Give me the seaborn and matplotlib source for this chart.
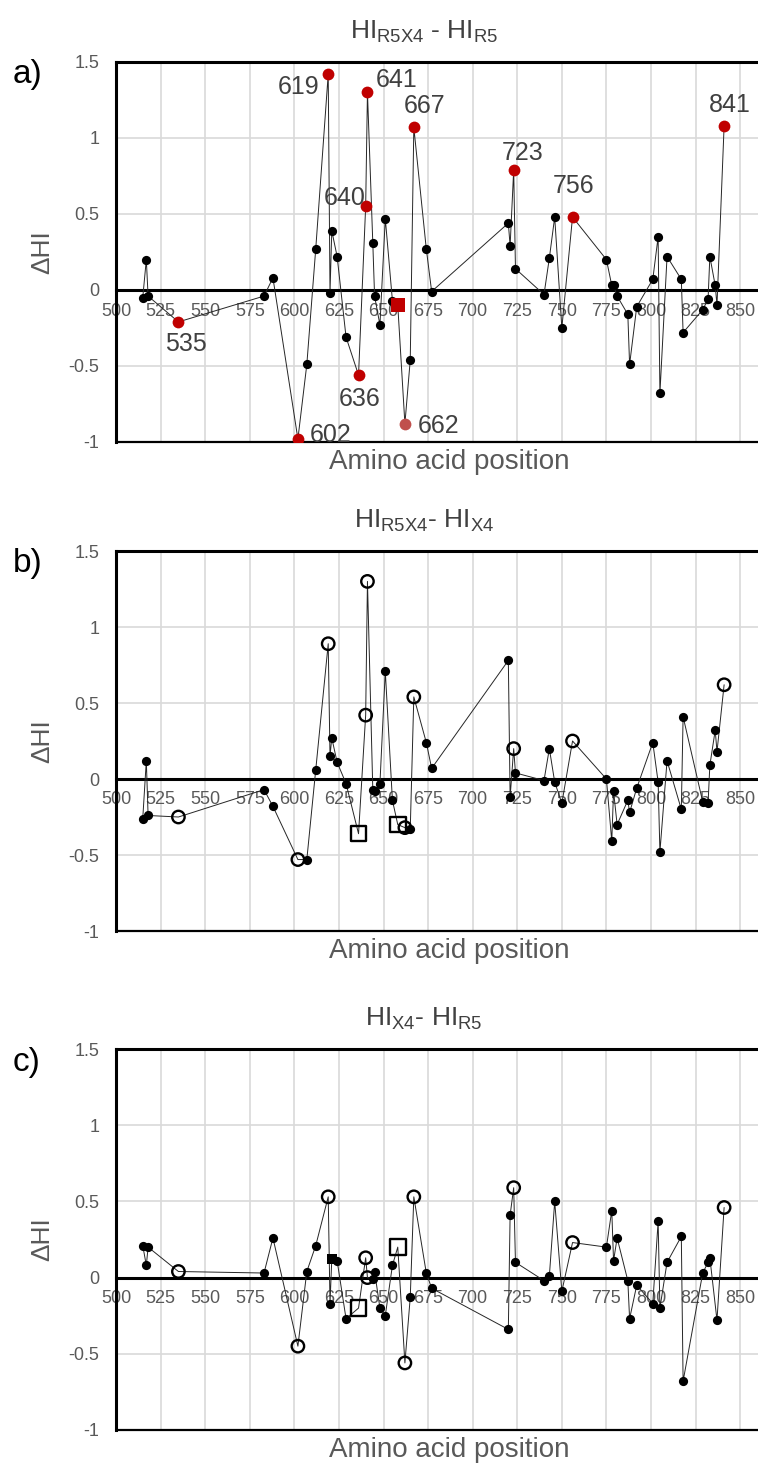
import numpy as np
import pandas as pd
import matplotlib
matplotlib.use("Agg")
import matplotlib.pyplot as plt
import seaborn as sns

# amino acid positions shared by the three panels
positions = [515, 517, 518, 535, 583, 588, 602, 607, 612, 619,
             620, 621, 624, 629, 636, 640, 641, 644, 645, 648,
             651, 655, 658, 662, 665, 667, 674, 677, 720, 721,
             723, 724, 740, 743, 746, 750, 756, 775, 778, 779,
             781, 787, 788, 792, 801, 804, 805, 809, 817, 818,
             829, 832, 833, 836, 837, 841]

# a) HI R5X4 - HI R5
dhi_r5x4_r5 = [-0.05, 0.20, -0.04, -0.21, -0.04, 0.08, -0.98, -0.49, 0.27, 1.42,
               -0.02, 0.39, 0.22, -0.31, -0.56, 0.55, 1.30, 0.31, -0.04, -0.23,
               0.47, -0.07, -0.10, -0.88, -0.46, 1.07, 0.27, -0.01, 0.44, 0.29,
               0.79, 0.14, -0.03, 0.21, 0.48, -0.25, 0.48, 0.20, 0.03, 0.03,
               -0.04, -0.16, -0.49, -0.11, 0.07, 0.35, -0.68, 0.22, 0.07, -0.28,
               -0.13, -0.06, 0.22, 0.03, -0.10, 1.08]

# b) HI R5X4 - HI X4
dhi_r5x4_x4 = [-0.26, 0.12, -0.24, -0.25, -0.07, -0.18, -0.53, -0.53, 0.06, 0.89,
               0.15, 0.27, 0.11, -0.03, -0.36, 0.42, 1.30, -0.07, -0.08, -0.03,
               0.71, -0.14, -0.30, -0.32, -0.33, 0.54, 0.24, 0.07, 0.78, -0.12,
               0.20, 0.04, -0.01, 0.20, -0.02, -0.16, 0.25, 0.00, -0.41, -0.08,
               -0.30, -0.14, -0.22, -0.06, 0.24, -0.02, -0.48, 0.12, -0.20, 0.41,
               -0.15, -0.16, 0.09, 0.32, 0.18, 0.62]

# c) HI X4 - HI R5
dhi_x4_r5 = [0.21, 0.08, 0.20, 0.04, 0.03, 0.26, -0.45, 0.04, 0.21, 0.53,
             -0.17, 0.12, 0.11, -0.27, -0.20, 0.13, 0.00, -0.01, 0.04, -0.20,
             -0.25, 0.08, 0.20, -0.56, -0.13, 0.53, 0.03, -0.07, -0.34, 0.41,
             0.59, 0.10, -0.02, 0.01, 0.50, -0.09, 0.23, 0.20, 0.44, 0.11,
             0.26, -0.02, -0.27, -0.05, -0.17, 0.37, -0.20, 0.10, 0.27, -0.68,
             0.03, 0.10, 0.13, np.nan, -0.28, 0.46]

# highlighted residues
labelled = [535, 602, 619, 636, 640, 641, 662, 667, 723, 756, 841]
square_res = [636, 658]
label_offsets = {535: (7, -20), 602: (33, 6), 619: (-30, -10), 636: (1, -21),
                 640: (-21, 11), 641: (29, 15), 662: (34, 0), 667: (11, 24),
                 723: (9, 19), 756: (1, 34), 841: (6, 23)}


def kind_a(p):
    if p == 662:
        return "pink"
    if p == 658:
        return "redsq"
    if p in labelled:
        return "red"
    return "dot"


def kind_bc(p, panel):
    if p in square_res:
        return "sq"
    if p in labelled and p != 636:
        return "open"
    if panel == "c" and p == 621:
        return "fsq"
    return "dot"


df = pd.DataFrame({"pos": positions, "a": dhi_r5x4_r5,
                   "b": dhi_r5x4_x4, "c": dhi_x4_r5})
df["kind_a"] = [kind_a(p) for p in positions]
df["kind_b"] = [kind_bc(p, "b") for p in positions]
df["kind_c"] = [kind_bc(p, "c") for p in positions]

styles = {
    "dot": dict(marker="o", s=44, color="black", linewidth=0),
    "red": dict(marker="o", s=72, color="#C00000", linewidth=0),
    "pink": dict(marker="o", s=72, color="#C0504D", linewidth=0),
    "redsq": dict(marker="s", s=100, color="#C00000", linewidth=0),
    "open": dict(marker="o", s=80, facecolor="none", edgecolor="black", linewidth=1.7),
    "sq": dict(marker="s", s=125, facecolor="none", edgecolor="black", linewidth=1.7),
    "fsq": dict(marker="s", s=42, color="black", linewidth=0),
}

sns.set_theme(style="white")
plt.rcParams["font.family"] = ["Liberation Sans", "DejaVu Sans"]
plt.rcParams["mathtext.default"] = "regular"

gray = "#595959"
dark = "#404040"

fig = plt.figure(figsize=(7.58, 14.67), dpi=100)
H = 1467.0
W = 758.0
panels = [
    ("a", "a)", r"HI$_{R5X4}$ - HI$_{R5}$", 62, 442),
    ("b", "b)", r"HI$_{R5X4}$- HI$_{X4}$", 551, 931),
    ("c", "c)", r"HI$_{X4}$- HI$_{R5}$", 1049, 1430),
]

for col, tag, title, top, bot in panels:
    ax = fig.add_axes([116 / W, 1 - bot / H, 1 - 116 / W, (bot - top) / H])
    sub = df.dropna(subset=[col])

    ax.set_xlim(500, 860)
    ax.set_ylim(-1, 1.5)
    ax.set_xticks(range(500, 851, 25))
    ax.set_yticks([-1, -0.5, 0, 0.5, 1, 1.5])
    ax.set_yticklabels(["-1", "-0.5", "0", "0.5", "1", "1.5"])
    ax.grid(True, color="#d9d9d9", lw=1.2, zorder=0)
    ax.set_axisbelow(True)

    sns.lineplot(data=sub, x="pos", y=col, ax=ax, color="#262626",
                 lw=0.7, estimator=None, sort=True, zorder=2)

    kcol = "kind_" + col
    for kind in ["dot", "fsq", "red", "pink", "redsq", "open", "sq"]:
        part = sub[sub[kcol] == kind]
        if len(part) == 0:
            continue
        sns.scatterplot(data=part, x="pos", y=col, ax=ax, zorder=3,
                        legend=False, **styles[kind])

    if col == "a":
        for p, v in zip(positions, dhi_r5x4_r5):
            if p in label_offsets:
                ax.annotate(str(p), (p, v), xytext=label_offsets[p],
                            textcoords="offset pixels", ha="center",
                            va="center_baseline", fontsize=18, color=dark,
                            zorder=4)

    for s in ["top", "left"]:
        ax.spines[s].set_visible(True)
        ax.spines[s].set_color("black")
        ax.spines[s].set_linewidth(2.2)
    ax.spines["right"].set_visible(False)
    ax.spines["bottom"].set_position(("data", 0))
    ax.spines["bottom"].set_color("black")
    ax.spines["bottom"].set_linewidth(2.2)
    ax.spines["bottom"].set_zorder(1.5)
    ax.axhline(-1, color="black", lw=1.6, clip_on=False)

    ax.tick_params(axis="x", direction="out", length=3, width=1.4,
                   color="black", pad=6, labelsize=13, labelcolor=gray)
    ax.tick_params(axis="y", length=0, pad=12, labelsize=13, labelcolor=gray)
    for lab in ax.get_xticklabels():
        lab.set_zorder(1)

    ax.set_xlabel("")
    ax.set_ylabel("\u0394HI", fontsize=19, color=gray, labelpad=10)
    ax.set_title(title, fontsize=19, color=dark, pad=17, x=0.48)

    fig.text(449 / W, 1 - (bot + 20) / H, "Amino acid position",
             ha="center", va="center", fontsize=20, color=gray)
    fig.text(13 / W, 1 - (top + 13) / H, tag, ha="left", va="center",
             fontsize=24, color="black")

fig.savefig("out.png", dpi=100)
